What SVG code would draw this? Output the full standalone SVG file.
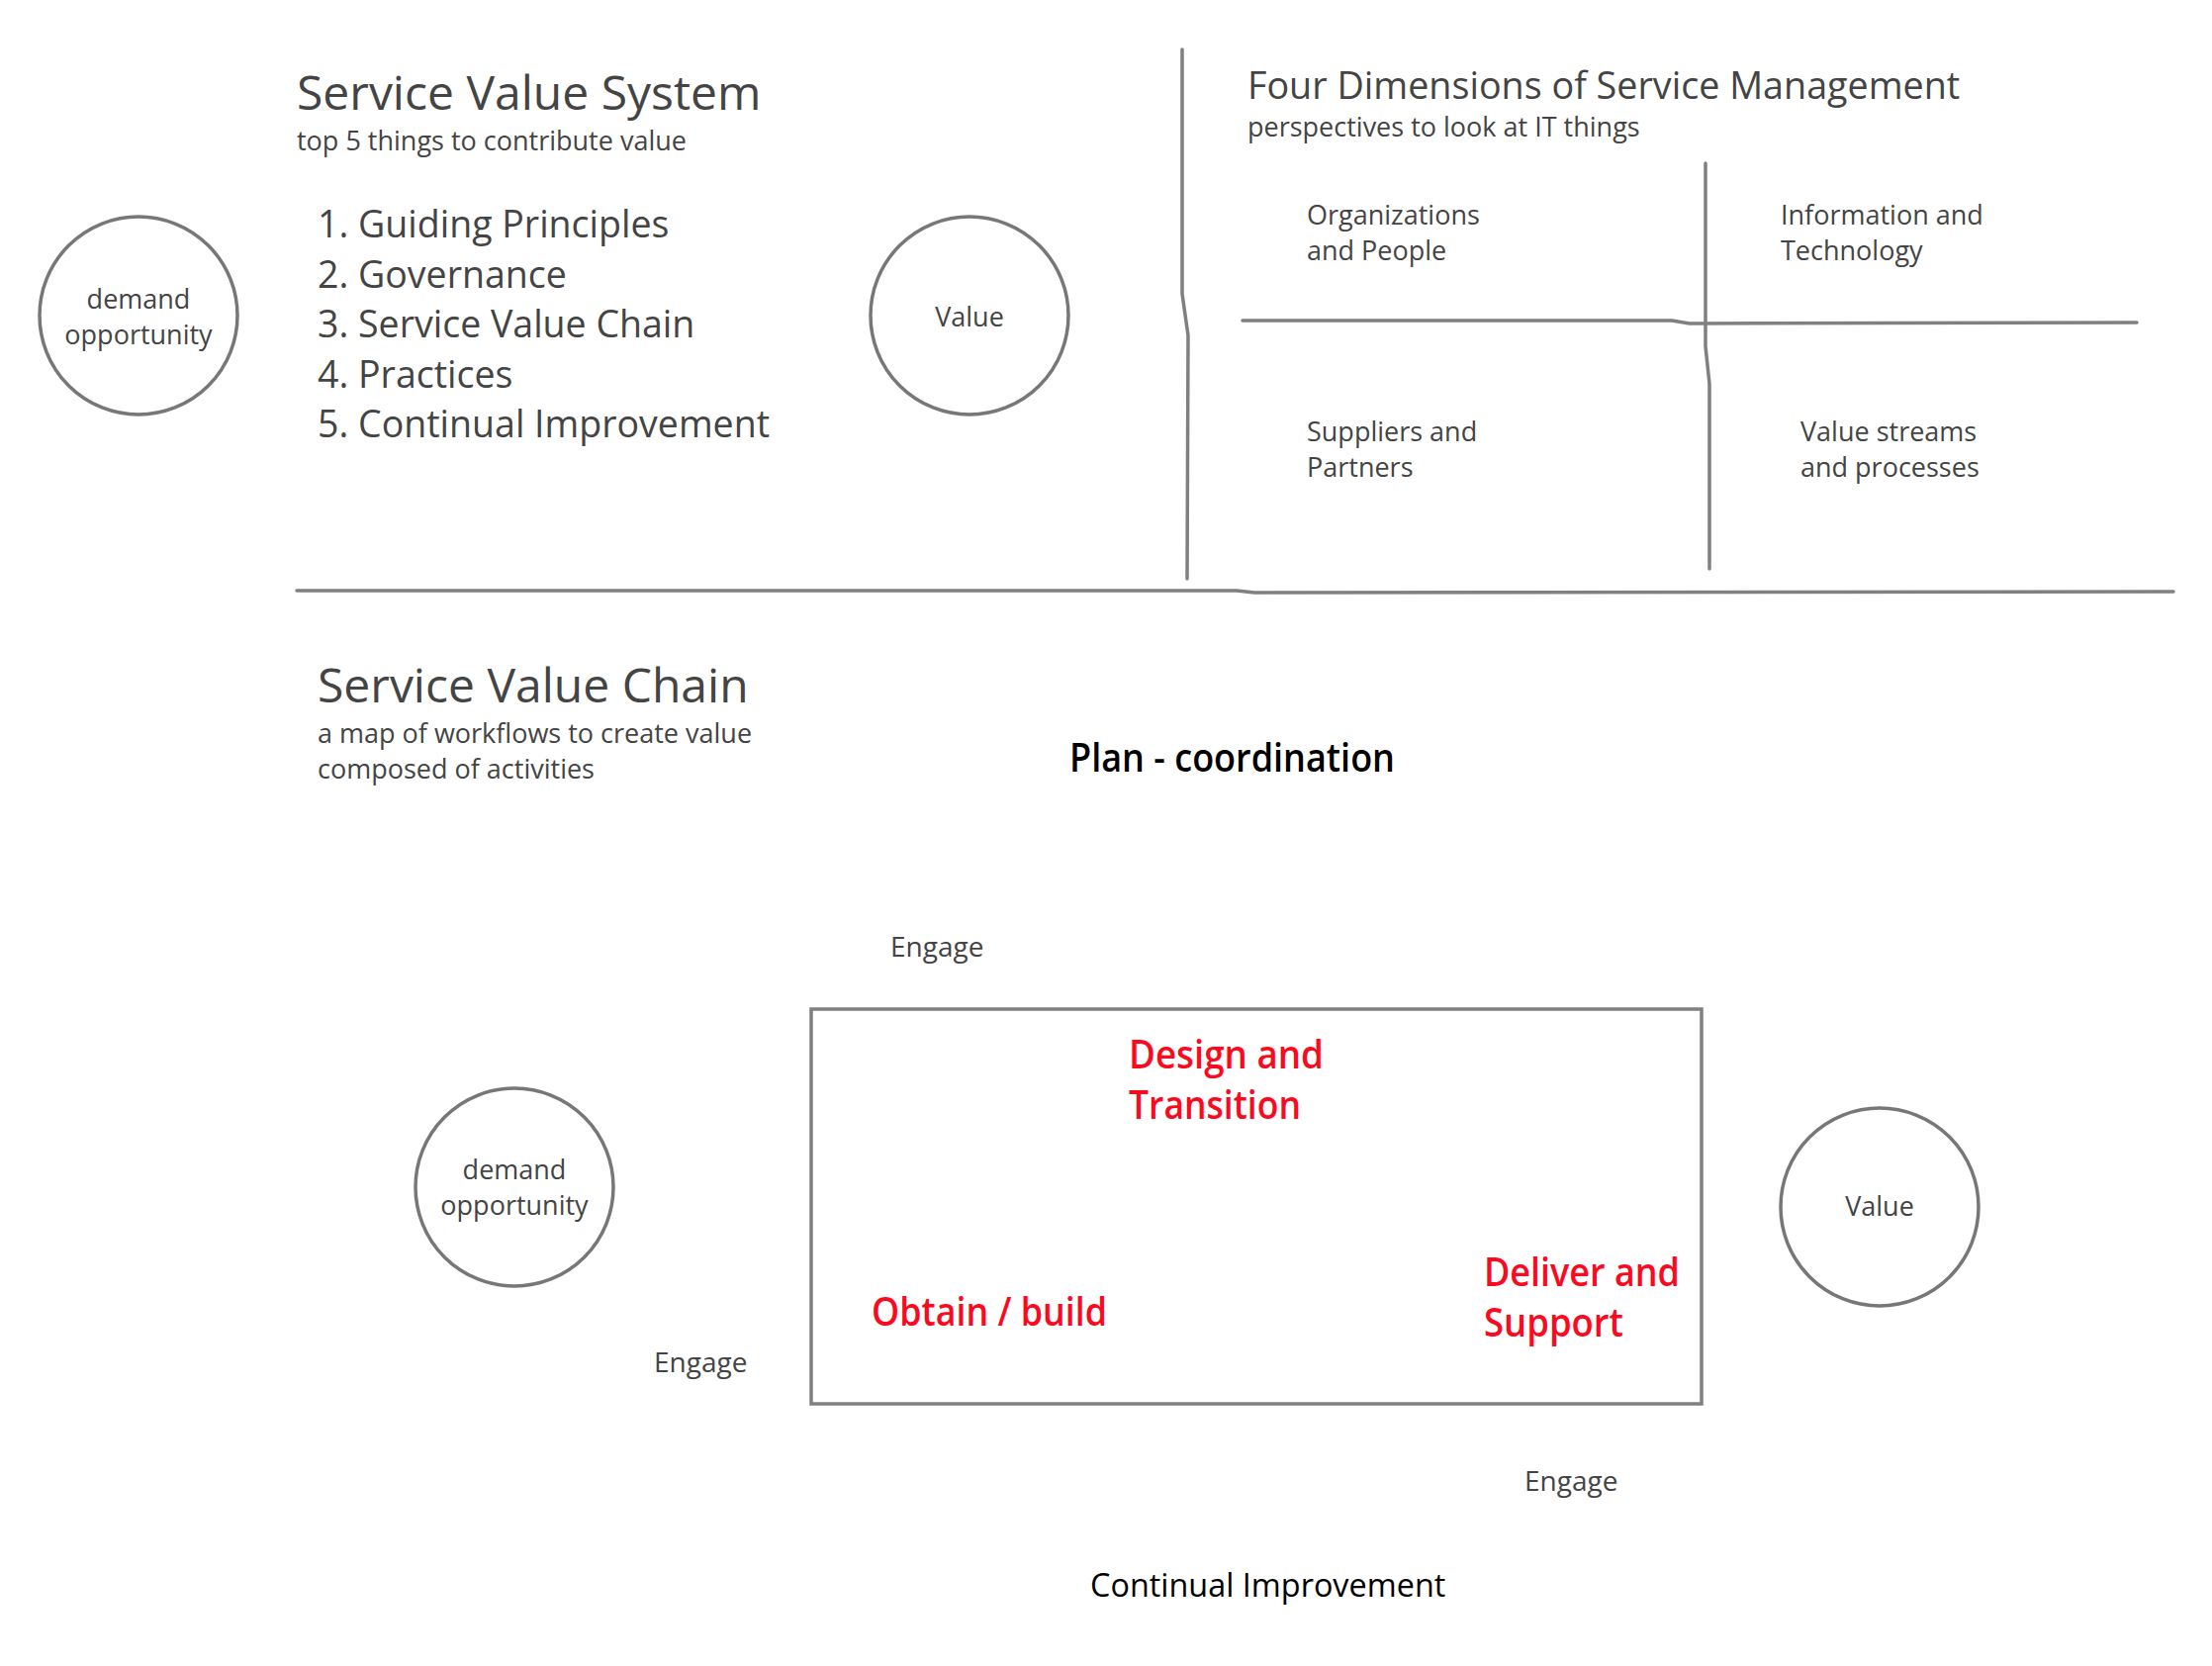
<svg xmlns="http://www.w3.org/2000/svg" width="2236" height="1684" viewBox="0 0 2236 1684">
<style>
text{font-family:"Open Sans","Noto Sans","Liberation Sans",sans-serif;fill:#444}
.h{font-size:48px}
.s{font-size:27px}
.e{font-size:28px}
.l{font-size:37.5px}
.r{font-size:39px;font-weight:600;fill:#fa0a1e}
.ln{fill:none;stroke:#808080;stroke-width:3.5;stroke-linecap:round;stroke-linejoin:round}
.c{fill:#fff;stroke:#777;stroke-width:3.5}
</style>
<rect width="2236" height="1684" fill="#fff"/>
<g id="connectors">
<path class="ln" d="M1195,50 L1195,297 L1201,339 L1200,585"/>
<path class="ln" d="M1256,324 L1690,324 L1708,327 L2160,326"/>
<path class="ln" d="M1724,165 L1724,350 L1728,388 L1728,575"/>
<path class="ln" d="M300,597 L1250,597 L1268,599 L2197,598"/>
</g>
<g id="svs-title">
<text class="h" x="300" y="111">Service Value System</text>
<text class="s" x="300" y="152">top 5 things to contribute value</text>
</g>
<g id="svs-list">
<text class="l" x="321" y="240">1. Guiding Principles</text>
<text class="l" x="321" y="291">2. Governance</text>
<text class="l" x="321" y="341">3. Service Value Chain</text>
<text class="l" x="321" y="392">4. Practices</text>
<text class="l" x="321" y="442">5. Continual Improvement</text>
</g>
<g id="demand-top">
<circle class="c" cx="140" cy="319" r="100"/>
<text class="s" x="140" y="312" text-anchor="middle">demand</text>
<text class="s" x="140" y="348" text-anchor="middle">opportunity</text>
</g>
<g id="value-top">
<circle class="c" cx="980" cy="319" r="100"/>
<text class="s" x="980" y="330" text-anchor="middle">Value</text>
</g>
<g id="four-dim">
<text x="1261" y="100" style="font-size:37.7px">Four Dimensions of Service Management</text>
<text class="s" x="1261" y="138">perspectives to look at IT things</text>
</g>
<g id="dim-org">
<text class="s" x="1321" y="227">Organizations</text>
<text class="s" x="1321" y="263">and People</text>
</g>
<g id="dim-info">
<text class="s" x="1800" y="227">Information and</text>
<text class="s" x="1800" y="263">Technology</text>
</g>
<g id="dim-sup">
<text class="s" x="1321" y="446">Suppliers and</text>
<text class="s" x="1321" y="482">Partners</text>
</g>
<g id="dim-vs">
<text class="s" x="1820" y="446">Value streams</text>
<text class="s" x="1820" y="482">and processes</text>
</g>
<g id="svc-title">
<text class="h" x="321" y="710">Service Value Chain</text>
<text class="s" x="321" y="751">a map of workflows to create value</text>
<text class="s" x="321" y="787">composed of activities</text>
</g>
<g id="plan">
<text x="1081" y="780" textLength="329" lengthAdjust="spacingAndGlyphs" style="font-size:39px;font-weight:600;fill:#000">Plan - coordination</text>
</g>
<g id="engage-top"><text class="e" x="900" y="967">Engage</text></g>
<g id="chain-box">
<rect x="820" y="1020" width="900" height="399" fill="none" stroke="#808080" stroke-width="3.5"/>
</g>
<g id="design">
<text class="r" x="1141" y="1080" textLength="197" lengthAdjust="spacingAndGlyphs">Design and</text>
<text class="r" x="1141" y="1131" textLength="174" lengthAdjust="spacingAndGlyphs">Transition</text>
</g>
<g id="obtain"><text class="r" x="881" y="1340" textLength="238" lengthAdjust="spacingAndGlyphs">Obtain / build</text></g>
<g id="deliver">
<text class="r" x="1500" y="1300" textLength="198" lengthAdjust="spacingAndGlyphs">Deliver and</text>
<text class="r" x="1500" y="1351" textLength="141" lengthAdjust="spacingAndGlyphs">Support</text>
</g>
<g id="demand-bottom">
<circle class="c" cx="520" cy="1200" r="100"/>
<text class="s" x="520" y="1192" text-anchor="middle">demand</text>
<text class="s" x="520" y="1228" text-anchor="middle">opportunity</text>
</g>
<g id="value-bottom">
<circle class="c" cx="1900" cy="1220" r="100"/>
<text class="s" x="1900" y="1229" text-anchor="middle">Value</text>
</g>
<g id="engage-left"><text class="e" x="661" y="1387">Engage</text></g>
<g id="engage-right"><text class="e" x="1541" y="1507">Engage</text></g>
<g id="ci"><text x="1102" y="1614" style="font-size:32.4px;fill:#000">Continual Improvement</text></g>
</svg>
